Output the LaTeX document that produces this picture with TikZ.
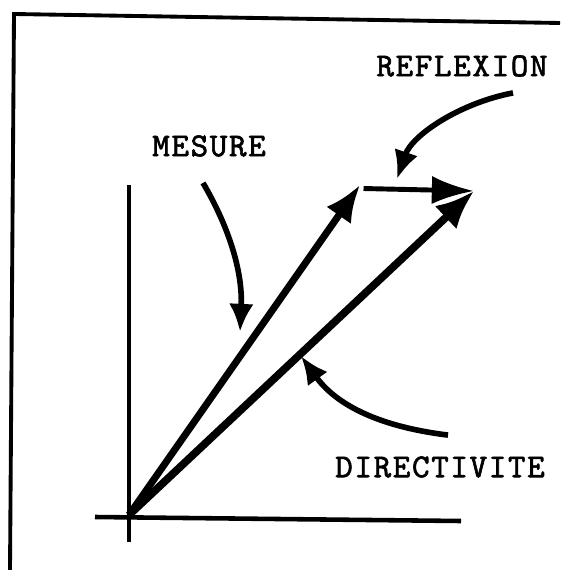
\documentclass[tikz,border=0pt]{standalone}
\usepackage{fontspec}
\usetikzlibrary{arrows.meta,calc}
\newfontfamily\labfont{lmmono10-regular.otf}[LetterSpace=5,FakeBold=1.8]

\begin{document}
\begin{tikzpicture}[x=0.02cm, y=-0.02cm,
    vec/.style={line width=4pt, -{Latex[length=21pt,width=17pt]}},
    axis/.style={line width=2.6pt},
    ptr/.style={line width=3.2pt, -{Latex[length=16pt,width=14pt]}},
    lab/.style={inner sep=0pt, font=\labfont\fontsize{19}{19}\selectfont}
]
    \useasboundingbox (0,0) rectangle (560,570);
    % frame
    \draw[line width=2.2pt] (560,23) -- (14,14) -- (10,570);
    % axes
    \coordinate (O) at (129,515);
    \coordinate (M) at (360,185);
    \coordinate (R) at (474,191);
    \draw[axis] (129,185) -- (129,542);
    \draw[axis] (95,517) -- (461,521);
    % vectors
    \draw[vec] (O) -- (M);
    \draw[vec, line width=4.4pt, -{Latex[length=22pt,width=18pt]}] (O) -- (R);
    \draw[line width=2.8pt, -{Latex[length=24pt,width=16pt]}] ([xshift=2pt,yshift=-2pt]M) -- (R);
    % labels
    \node[lab] (mesure) at (209,146) {MESURE};
    \node[lab] (reflexion) at (462,66) {REFLEXION};
    \node[lab] (directivite) at (440,467) {DIRECTIVITE};
    \coordinate (mtip) at (240,332);
    \coordinate (rtip) at (397,179);
    \coordinate (dtip) at (301,356);
    \draw[ptr] ($(mesure.south)+(-6,26)$) .. controls (226,222) and (243,268) .. (mtip);
    \draw[ptr] ($(reflexion.south)+(51,16)$) .. controls (460,103) and (412,135) .. (rtip);
    \draw[ptr] ($(directivite.north)+(8,-21)$) .. controls (390,428) and (340,410) .. (dtip);
\end{tikzpicture}
\end{document}
